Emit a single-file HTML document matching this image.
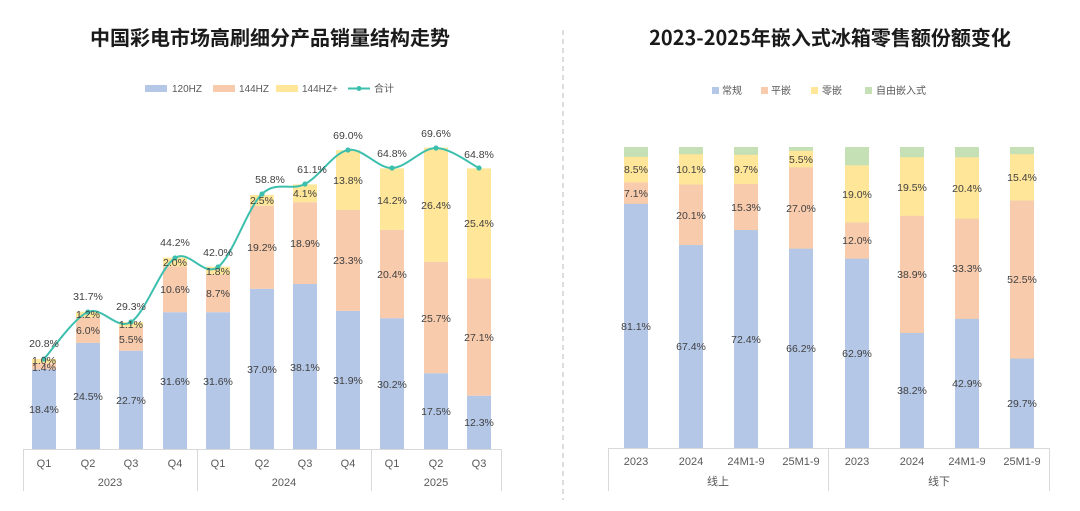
<!DOCTYPE html>
<html><head><meta charset="utf-8"><style>
html,body{margin:0;padding:0;background:#fff;}
svg{display:block;font-family:"Liberation Sans","Noto Sans CJK SC",sans-serif;}
.t{font-size:20px;font-weight:bold;fill:#1a1a1a;font-family:"Noto Sans CJK SC","Liberation Sans",sans-serif;}
.l{font-size:10.5px;fill:#404040;text-anchor:middle;}
.a{font-size:11px;fill:#595959;text-anchor:middle;}
.g{font-size:10px;fill:#595959;}
</style></head><body>
<svg width="1080" height="511" viewBox="0 0 1080 511">
<rect width="1080" height="511" fill="#fff"/>
<text class="t" x="270" y="45" text-anchor="middle">中国彩电市场高刷细分产品销量结构走势</text>
<text class="t" x="830" y="45" text-anchor="middle">2023-2025年嵌入式冰箱零售额份额变化</text>
<line x1="563" y1="30" x2="563" y2="500" stroke="#bbb" stroke-dasharray="5,4"/>

<rect x="145" y="85" width="22" height="7" fill="#b4c7e7"/><text class="g" x="172" y="92">120HZ</text>
<rect x="213" y="85" width="22" height="7" fill="#f8cbad"/><text class="g" x="239" y="92">144HZ</text>
<rect x="276" y="85" width="22" height="7" fill="#ffe699"/><text class="g" x="302" y="92">144HZ+</text>
<line x1="348" y1="88.5" x2="370" y2="88.5" stroke="#3dbfae" stroke-width="2"/><circle cx="359" cy="88.5" r="2.5" fill="#3dbfae"/><text class="g" x="374" y="92">合计</text>

<g>
<rect x="32" y="369.3" width="24" height="79.7" fill="#b4c7e7"/><rect x="32" y="363.2" width="24" height="6.1" fill="#f8cbad"/><rect x="32" y="358.9" width="24" height="4.3" fill="#ffe699"/>
<rect x="76" y="342.9" width="24" height="106.1" fill="#b4c7e7"/><rect x="76" y="316.9" width="24" height="26" fill="#f8cbad"/><rect x="76" y="311.7" width="24" height="5.2" fill="#ffe699"/>
<rect x="119" y="350.7" width="24" height="98.3" fill="#b4c7e7"/><rect x="119" y="326.9" width="24" height="23.8" fill="#f8cbad"/><rect x="119" y="322.1" width="24" height="4.8" fill="#ffe699"/>
<rect x="163" y="312.2" width="24" height="136.8" fill="#b4c7e7"/><rect x="163" y="266.3" width="24" height="45.9" fill="#f8cbad"/><rect x="163" y="257.6" width="24" height="8.7" fill="#ffe699"/>
<rect x="206" y="312.2" width="24" height="136.8" fill="#b4c7e7"/><rect x="206" y="274.5" width="24" height="37.7" fill="#f8cbad"/><rect x="206" y="266.7" width="24" height="7.8" fill="#ffe699"/>
<rect x="250" y="288.8" width="24" height="160.2" fill="#b4c7e7"/><rect x="250" y="205.7" width="24" height="83.1" fill="#f8cbad"/><rect x="250" y="194.9" width="24" height="10.8" fill="#ffe699"/>
<rect x="293" y="284" width="24" height="165" fill="#b4c7e7"/><rect x="293" y="202.2" width="24" height="81.8" fill="#f8cbad"/><rect x="293" y="184.4" width="24" height="17.8" fill="#ffe699"/>
<rect x="336" y="310.9" width="24" height="138.1" fill="#b4c7e7"/><rect x="336" y="210" width="24" height="100.9" fill="#f8cbad"/><rect x="336" y="150.2" width="24" height="59.8" fill="#ffe699"/>
<rect x="380" y="318.2" width="24" height="130.8" fill="#b4c7e7"/><rect x="380" y="229.9" width="24" height="88.3" fill="#f8cbad"/><rect x="380" y="168.4" width="24" height="61.5" fill="#ffe699"/>
<rect x="424" y="373.2" width="24" height="75.8" fill="#b4c7e7"/><rect x="424" y="261.9" width="24" height="111.3" fill="#f8cbad"/><rect x="424" y="147.6" width="24" height="114.3" fill="#ffe699"/>
<rect x="467" y="395.7" width="24" height="53.3" fill="#b4c7e7"/><rect x="467" y="278.4" width="24" height="117.3" fill="#f8cbad"/><rect x="467" y="168.4" width="24" height="110" fill="#ffe699"/>
</g>
<path d="M44,359 C51.3,351.2 73.5,318.2 88,312 C102.5,305.8 116.5,331 131,322 C145.5,313 160.5,267.2 175,258 C189.5,248.8 203.5,277.7 218,267 C232.5,256.3 247.5,207.8 262,194 C276.5,180.2 290.7,191.3 305,184 C319.3,176.7 333.5,152.7 348,150 C362.5,147.3 377.3,168.3 392,168 C406.7,167.7 421.5,148 436,148 C450.5,148 471.8,164.7 479,168" fill="none" stroke="#3dbfae" stroke-width="2"/>
<g fill="#3dbfae">
<circle cx="44" cy="359" r="2.6"/><circle cx="88" cy="312" r="2.6"/><circle cx="131" cy="322" r="2.6"/><circle cx="175" cy="258" r="2.6"/><circle cx="218" cy="267" r="2.6"/><circle cx="262" cy="194" r="2.6"/><circle cx="305" cy="184" r="2.6"/><circle cx="348" cy="150" r="2.6"/><circle cx="392" cy="168" r="2.6"/><circle cx="436" cy="148" r="2.6"/><circle cx="479" cy="168" r="2.6"/>
</g>
<g class="l">
<text x="44" y="413">18.4%</text><text x="44" y="371">1.4%</text><text x="44" y="364">1.0%</text><text x="44" y="347">20.8%</text>
<text x="88" y="400">24.5%</text><text x="88" y="334">6.0%</text><text x="88" y="318">1.2%</text><text x="88" y="300">31.7%</text>
<text x="131" y="404">22.7%</text><text x="131" y="343">5.5%</text><text x="131" y="328">1.1%</text><text x="131" y="310">29.3%</text>
<text x="175" y="385">31.6%</text><text x="175" y="293">10.6%</text><text x="175" y="266">2.0%</text><text x="175" y="246">44.2%</text>
<text x="218" y="385">31.6%</text><text x="218" y="297">8.7%</text><text x="218" y="275">1.8%</text><text x="218" y="256">42.0%</text>
<text x="262" y="373">37.0%</text><text x="262" y="251">19.2%</text><text x="262" y="204">2.5%</text><text x="270" y="183">58.8%</text>
<text x="305" y="371">38.1%</text><text x="305" y="197">4.1%</text><text x="305" y="247">18.9%</text><text x="312" y="173">61.1%</text>
<text x="348" y="384">31.9%</text><text x="348" y="264">23.3%</text><text x="348" y="184">13.8%</text><text x="348" y="139">69.0%</text>
<text x="392" y="388">30.2%</text><text x="392" y="278">20.4%</text><text x="392" y="204">14.2%</text><text x="392" y="157">64.8%</text>
<text x="436" y="415">17.5%</text><text x="436" y="322">25.7%</text><text x="436" y="209">26.4%</text><text x="436" y="137">69.6%</text>
<text x="479" y="426">12.3%</text><text x="479" y="341">27.1%</text><text x="479" y="227">25.4%</text><text x="479" y="158">64.8%</text>
</g>
<g stroke="#d9d9d9" stroke-width="1">
<line x1="23" y1="449.5" x2="502" y2="449.5"/>
<line x1="23.5" y1="449" x2="23.5" y2="491"/><line x1="197.5" y1="449" x2="197.5" y2="491"/><line x1="371.5" y1="449" x2="371.5" y2="491"/><line x1="501.5" y1="449" x2="501.5" y2="491"/>
</g>
<g class="a">
<text x="44" y="467">Q1</text><text x="88" y="467">Q2</text><text x="131" y="467">Q3</text><text x="175" y="467">Q4</text><text x="218" y="467">Q1</text><text x="262" y="467">Q2</text><text x="305" y="467">Q3</text><text x="348" y="467">Q4</text><text x="392" y="467">Q1</text><text x="436" y="467">Q2</text><text x="479" y="467">Q3</text>
<text x="110" y="486">2023</text><text x="284" y="486">2024</text><text x="436" y="486">2025</text>
</g>

<rect x="712" y="87" width="7" height="7" fill="#b4c7e7"/><text class="g" x="722" y="94">常规</text>
<rect x="761" y="87" width="7" height="7" fill="#f8cbad"/><text class="g" x="771" y="94">平嵌</text>
<rect x="811" y="87" width="7" height="7" fill="#ffe699"/><text class="g" x="822" y="94">零嵌</text>
<rect x="865" y="87" width="7" height="7" fill="#c5e0b4"/><text class="g" x="876" y="94">自由嵌入式</text>

<g>
<rect x="624" y="147" width="24" height="301" fill="#c5e0b4"/><rect x="624" y="156.9" width="24" height="25.6" fill="#ffe699"/><rect x="624" y="182.5" width="24" height="21.4" fill="#f8cbad"/><rect x="624" y="203.9" width="24" height="244.1" fill="#b4c7e7"/>
<rect x="679" y="147" width="24" height="301" fill="#c5e0b4"/><rect x="679" y="154.2" width="24" height="30.4" fill="#ffe699"/><rect x="679" y="184.6" width="24" height="60.5" fill="#f8cbad"/><rect x="679" y="245.1" width="24" height="202.9" fill="#b4c7e7"/>
<rect x="734" y="147" width="24" height="301" fill="#c5e0b4"/><rect x="734" y="154.8" width="24" height="29.2" fill="#ffe699"/><rect x="734" y="184" width="24" height="46.1" fill="#f8cbad"/><rect x="734" y="230.1" width="24" height="217.9" fill="#b4c7e7"/>
<rect x="789" y="147" width="24" height="301" fill="#c5e0b4"/><rect x="789" y="150.8" width="24" height="16.6" fill="#ffe699"/><rect x="789" y="167.4" width="24" height="81.3" fill="#f8cbad"/><rect x="789" y="248.7" width="24" height="199.3" fill="#b4c7e7"/>
<rect x="845" y="147" width="24" height="301" fill="#c5e0b4"/><rect x="845" y="165.4" width="24" height="57.2" fill="#ffe699"/><rect x="845" y="222.6" width="24" height="36.1" fill="#f8cbad"/><rect x="845" y="258.7" width="24" height="189.3" fill="#b4c7e7"/>
<rect x="900" y="147" width="24" height="301" fill="#c5e0b4"/><rect x="900" y="157.2" width="24" height="58.7" fill="#ffe699"/><rect x="900" y="215.9" width="24" height="117.1" fill="#f8cbad"/><rect x="900" y="333" width="24" height="115" fill="#b4c7e7"/>
<rect x="955" y="147" width="24" height="301" fill="#c5e0b4"/><rect x="955" y="157.3" width="24" height="61.4" fill="#ffe699"/><rect x="955" y="218.7" width="24" height="100.2" fill="#f8cbad"/><rect x="955" y="318.9" width="24" height="129.1" fill="#b4c7e7"/>
<rect x="1010" y="147" width="24" height="301" fill="#c5e0b4"/><rect x="1010" y="154.2" width="24" height="46.4" fill="#ffe699"/><rect x="1010" y="200.6" width="24" height="158" fill="#f8cbad"/><rect x="1010" y="358.6" width="24" height="89.4" fill="#b4c7e7"/>
</g>
<g class="l">
<text x="636" y="330">81.1%</text><text x="636" y="197">7.1%</text><text x="636" y="173">8.5%</text>
<text x="691" y="350">67.4%</text><text x="691" y="219">20.1%</text><text x="691" y="173">10.1%</text>
<text x="746" y="343">72.4%</text><text x="746" y="211">15.3%</text><text x="746" y="173">9.7%</text>
<text x="801" y="352">66.2%</text><text x="801" y="212">27.0%</text><text x="801" y="163">5.5%</text>
<text x="857" y="357">62.9%</text><text x="857" y="244">12.0%</text><text x="857" y="198">19.0%</text>
<text x="912" y="394">38.2%</text><text x="912" y="278">38.9%</text><text x="912" y="191">19.5%</text>
<text x="967" y="387">42.9%</text><text x="967" y="272">33.3%</text><text x="967" y="192">20.4%</text>
<text x="1022" y="407">29.7%</text><text x="1022" y="283">52.5%</text><text x="1022" y="181">15.4%</text>
</g>
<g stroke="#d9d9d9" stroke-width="1">
<line x1="608" y1="448.5" x2="1050" y2="448.5"/>
<line x1="608.5" y1="448" x2="608.5" y2="491"/><line x1="828.5" y1="448" x2="828.5" y2="491"/><line x1="1049.5" y1="448" x2="1049.5" y2="491"/>
</g>
<g class="a">
<text x="636" y="465">2023</text><text x="691" y="465">2024</text><text x="746" y="465">24M1-9</text><text x="801" y="465">25M1-9</text>
<text x="857" y="465">2023</text><text x="912" y="465">2024</text><text x="967" y="465">24M1-9</text><text x="1022" y="465">25M1-9</text>
<text x="718" y="485">线上</text><text x="939" y="485">线下</text>
</g>
</svg>
</body></html>
